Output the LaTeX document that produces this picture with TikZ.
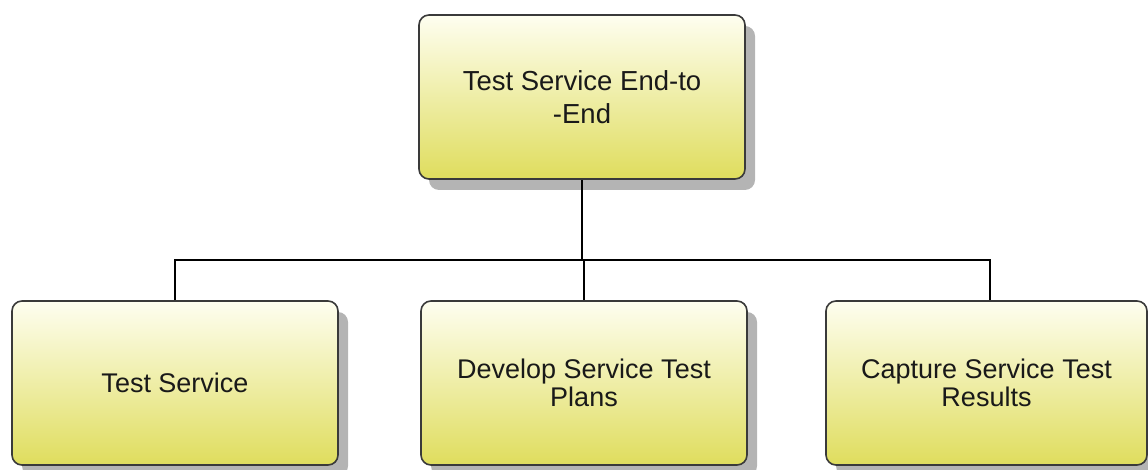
\documentclass[tikz,border=0pt]{standalone}
\usepackage{fontspec}
\setmainfont{Liberation Sans}
\usetikzlibrary{shadows}
\definecolor{boxtop}{HTML}{FEFEF0}
\definecolor{boxbottom}{HTML}{DFDD5D}
\definecolor{boxedge}{HTML}{3A3A3A}
\definecolor{shadowgray}{HTML}{B4B4B4}
\begin{document}
\begin{tikzpicture}[x=1pt,y=-1pt,
  taskbox/.style={draw=boxedge, line width=1.6pt, rounded corners=10pt,
    top color=boxtop, bottom color=boxbottom,
    minimum width=326pt, minimum height=164pt, inner sep=0pt,
    align=center, text=black!90,
    drop shadow={shadow xshift=10pt, shadow yshift=-11pt, fill=shadowgray, opacity=1}},
  toptext/.style={font=\fontsize{27.5}{33}\selectfont},
  subtext/.style={font=\fontsize{27}{28}\selectfont},
  link/.style={draw=black, line width=1.6pt}]
  \useasboundingbox (0,0) rectangle (1148,470);

  % parent task
  \node[taskbox, toptext] (root) at (582,97) {Test Service End-to\\-End};

  % child tasks
  \node[taskbox, subtext] (svc) at (175,383) {Test Service};
  \node[taskbox, subtext] (plans) at (584,383) {Develop Service Test\\Plans};
  \node[taskbox, subtext, minimum width=321pt] (results) at (986.5,383) {Capture Service Test\\Results};

  % tree connectors
  \coordinate (bus) at (582,260);
  \draw[link] (root.south) -- (bus);
  \draw[link] (svc.north) |- (bus) -| (results.north -| 990,0);
  \draw[link] (bus -| plans.north) -- (plans.north);
\end{tikzpicture}
\end{document}
